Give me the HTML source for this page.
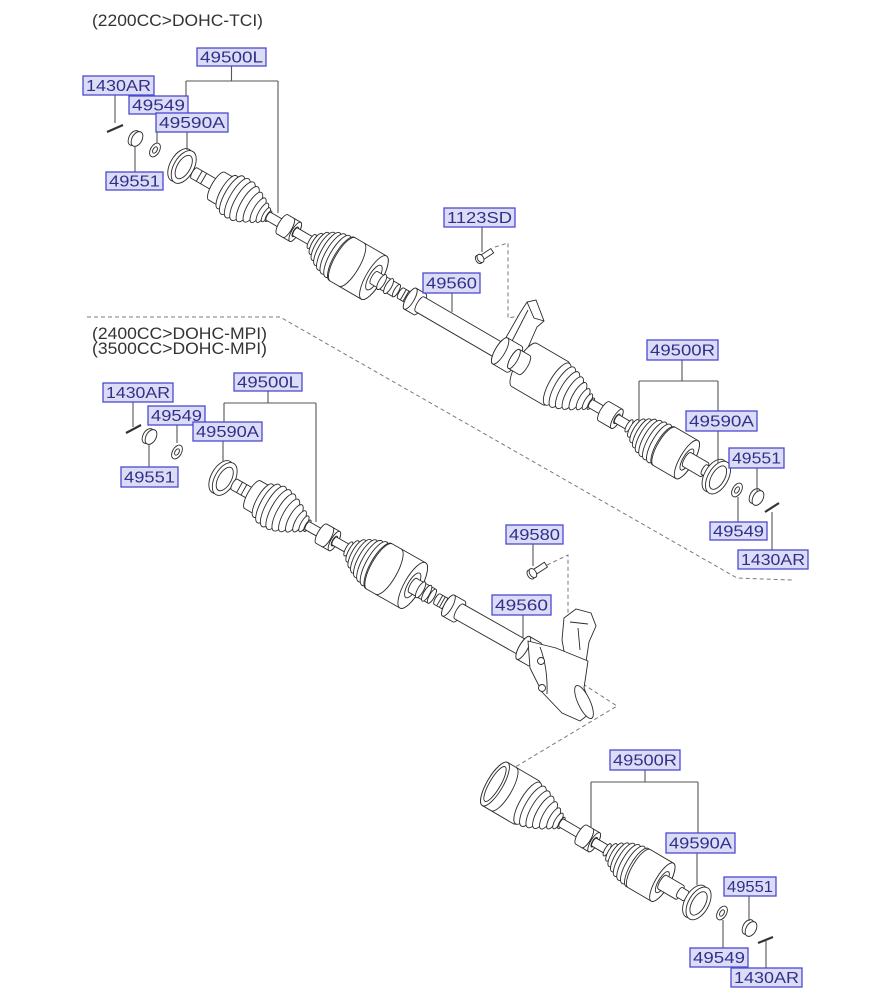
<!DOCTYPE html>
<html><head><meta charset="utf-8">
<style>
html,body{margin:0;padding:0;background:#fff;}
svg{display:block;}
.p{fill:#fff;stroke:#2a2a2a;stroke-width:0.9;}
.n{fill:none;stroke:#2a2a2a;stroke-width:0.9;}
.ld{fill:none;stroke:#555;stroke-width:1.1;}
.ds{fill:none;stroke:#7a7a7a;stroke-width:1;stroke-dasharray:4 3;}
.lb{fill:#dcdcf7;stroke:#4a4ad2;stroke-width:1.3;}
.lt{font-family:"Liberation Sans",sans-serif;font-size:15.5px;fill:#30308a;text-anchor:middle;}
.hd{font-family:"Liberation Sans",sans-serif;font-size:17px;fill:#333;}
</style></head>
<body>
<svg width="893" height="1000" viewBox="0 0 893 1000" xmlns="http://www.w3.org/2000/svg">
<rect width="893" height="1000" fill="#fff"/>

<!-- headers -->
<text class="hd" x="92" y="26" textLength="171" lengthAdjust="spacingAndGlyphs">(2200CC&gt;DOHC-TCI)</text>
<text class="hd" x="92" y="339" textLength="175" lengthAdjust="spacingAndGlyphs">(2400CC&gt;DOHC-MPI)</text>
<text class="hd" x="92" y="354" textLength="175" lengthAdjust="spacingAndGlyphs">(3500CC&gt;DOHC-MPI)</text>

<!-- dashed separators -->
<path class="ds" d="M87,317 L280,317 L737,578 L792,580"/>
<path class="ds" d="M495,247 L508,243 L508,318 L519,316"/>
<path class="ds" d="M547,565 L568,555 L568,613"/>
<path class="ds" d="M583,684 L617,706 L492,781 L497,787"/>

<!-- top bracket arm -->
<polygon class="p" points="500,348 520,313 527,302 536,300 544,321 537,327 526,352"/>
<path class="n" d="M510,345 L528,310 M527,302 L534,318 L544,321"/>

<!-- TOP ASSEMBLY -->
<g transform="translate(182,166) rotate(30.17)">
<ellipse class="p" cx="-2" cy="0" rx="10" ry="18"/>
<ellipse class="p" cx="2" cy="0" rx="10" ry="18"/>
<ellipse class="p" cx="2" cy="0" rx="6.5" ry="13"/>
<path class="p" d="M14,-6 L42,-6 A2,6 0 0 1 42,6 L14,6 A2,6 0 0 1 14,-6Z"/>
<path class="n" d="M20,-6 L20,6 M25,-6 L25,6"/>
<path class="p" d="M40,-16 L50,-16 A5,16 0 0 1 50,16 L40,16 A5,16 0 0 1 40,-16Z"/>
<ellipse class="p" cx="52" rx="6.3" ry="19"/><ellipse class="p" cx="58" rx="7.3" ry="22"/><ellipse class="p" cx="64" rx="7.4" ry="22.5"/><ellipse class="p" cx="70" rx="7.3" ry="22"/><ellipse class="p" cx="76" rx="6.6" ry="20"/><ellipse class="p" cx="82" rx="5.6" ry="17"/><ellipse class="p" cx="88" rx="4.6" ry="14"/><ellipse class="p" cx="93" rx="3.6" ry="11"/><ellipse class="p" cx="97" rx="2.6" ry="8"/><ellipse class="p" cx="100" rx="2" ry="6"/>
<path class="p" d="M100,-4.5 L118,-4.5 A1.5,4.5 0 0 1 118,4.5 L100,4.5 A1.5,4.5 0 0 1 100,-4.5Z"/>
<path class="p" d="M116,-11 L131,-11 A3.6,11 0 0 1 131,11 L116,11 A3.6,11 0 0 1 116,-11Z"/>
<ellipse class="p" cx="131" rx="3.6" ry="11"/><ellipse class="p" cx="131" rx="2" ry="5.5"/>
<path class="n" d="M123,-11 A3.6,11 0 0 1 123,11"/>
<path class="p" d="M131,-4.5 L152,-4.5 A1.5,4.5 0 0 1 152,4.5 L131,4.5 A1.5,4.5 0 0 1 131,-4.5Z"/>
<ellipse class="p" cx="150" rx="2.6" ry="8"/><ellipse class="p" cx="155" rx="4" ry="12"/><ellipse class="p" cx="160" rx="5.3" ry="16"/><ellipse class="p" cx="165" rx="6.3" ry="19"/><ellipse class="p" cx="170" rx="7.1" ry="21.5"/><ellipse class="p" cx="175" rx="7.6" ry="23"/><ellipse class="p" cx="180" rx="7.9" ry="24"/><ellipse class="p" cx="185" rx="8.2" ry="25"/>
<path class="p" d="M186,-25 L222,-25 A8,25 0 0 1 222,25 L186,25 A8,25 0 0 1 186,-25Z"/>
<path class="n" d="M196,-25 A8,25 0 0 1 196,25"/>
<ellipse class="p" cx="222" rx="8" ry="25"/><ellipse class="p" cx="222" rx="5" ry="14"/>
<path class="p" d="M222,-7 L248,-7 A2.3,7 0 0 1 248,7 L222,7 A2.3,7 0 0 1 222,-7Z"/>
<ellipse class="p" cx="231" rx="3" ry="8.5"/><ellipse class="p" cx="239" rx="3" ry="8.5"/><ellipse class="p" cx="248" rx="2.3" ry="7"/>
<path class="p" d="M253,-6 L264,-6 A2,6 0 0 1 264,6 L253,6 A2,6 0 0 1 253,-6Z"/>
<path class="n" d="M256,-6 L256,6 M259,-6 L259,6 M262,-6 L262,6"/>
<path class="p" d="M264,-12 L275,-12 A4,12 0 0 1 275,12 L264,12 A4,12 0 0 1 264,-12Z"/>
<ellipse class="p" cx="264" rx="4" ry="12"/>
<path class="p" d="M275,-8.5 L372,-8.5 A2.8,8.5 0 0 1 372,8.5 L275,8.5 A2.8,8.5 0 0 1 275,-8.5Z"/>
<path class="p" d="M368,-15 L384,-15 A5,15 0 0 1 384,15 L368,15 A5,15 0 0 1 368,-15Z"/>
<ellipse class="p" cx="368" rx="5" ry="15"/>
<path class="p" d="M396,-25 L432,-25 A8,25 0 0 1 432,25 L396,25 A8,25 0 0 1 396,-25Z"/>
<path class="p" d="M384,-11 L396,-11 A3.6,11 0 0 1 396,11 L384,11 A3.6,11 0 0 1 384,-11Z"/>
<ellipse class="p" cx="384" rx="3.6" ry="11"/>
<ellipse class="p" cx="434" rx="7.9" ry="24"/><ellipse class="p" cx="440" rx="7.6" ry="23"/><ellipse class="p" cx="446" rx="6.9" ry="21"/><ellipse class="p" cx="452" rx="6.1" ry="18.5"/><ellipse class="p" cx="458" rx="5.1" ry="15.5"/><ellipse class="p" cx="464" rx="4" ry="12"/><ellipse class="p" cx="469" rx="3" ry="9"/><ellipse class="p" cx="473" rx="2.1" ry="6.5"/>
<path class="p" d="M473,-4.5 L490,-4.5 A1.5,4.5 0 0 1 490,4.5 L473,4.5 A1.5,4.5 0 0 1 473,-4.5Z"/>
<path class="p" d="M488,-11 L503,-11 A3.6,11 0 0 1 503,11 L488,11 A3.6,11 0 0 1 488,-11Z"/>
<ellipse class="p" cx="503" rx="3.6" ry="11"/><ellipse class="p" cx="503" rx="2" ry="5.5"/>
<path class="p" d="M503,-4.5 L519,-4.5 A1.5,4.5 0 0 1 519,4.5 L503,4.5 A1.5,4.5 0 0 1 503,-4.5Z"/>
<ellipse class="p" cx="517" rx="2.3" ry="7"/><ellipse class="p" cx="522" rx="3.3" ry="10"/><ellipse class="p" cx="527" rx="4.5" ry="13.5"/><ellipse class="p" cx="532" rx="5.4" ry="16.5"/><ellipse class="p" cx="537" rx="6.3" ry="19"/><ellipse class="p" cx="542" rx="6.8" ry="20.5"/><ellipse class="p" cx="547" rx="7.1" ry="21.5"/><ellipse class="p" cx="552" rx="7.3" ry="22"/><ellipse class="p" cx="557" rx="7.3" ry="22"/>
<path class="p" d="M558,-22 L584,-22 A7,22 0 0 1 584,22 L558,22 A7,22 0 0 1 558,-22Z"/>
<ellipse class="p" cx="584" rx="7" ry="22"/><ellipse class="p" cx="584" rx="4" ry="12"/>
<path class="p" d="M584,-8 L604,-8 A2.6,8 0 0 1 604,8 L584,8 A2.6,8 0 0 1 584,-8Z"/>
<path class="p" d="M604,-5.5 L612,-5.5 A1.8,5.5 0 0 1 612,5.5 L604,5.5 A1.8,5.5 0 0 1 604,-5.5Z"/>
<ellipse class="p" cx="616" rx="10" ry="18"/><ellipse class="p" cx="620" rx="10" ry="18"/><ellipse class="p" cx="620" rx="6.5" ry="13"/>
</g>

<!-- MIDDLE ASSEMBLY -->
<g transform="translate(223,478) rotate(29.5)">
<ellipse class="p" cx="-2" cy="0" rx="10" ry="18"/>
<ellipse class="p" cx="2" cy="0" rx="10" ry="18"/>
<ellipse class="p" cx="2" cy="0" rx="6.5" ry="13"/>
<path class="p" d="M13,-6 L36,-6 A2,6 0 0 1 36,6 L13,6 A2,6 0 0 1 13,-6Z"/>
<path class="n" d="M19,-6 L19,6 M24,-6 L24,6"/>
<path class="p" d="M34,-16 L44,-16 A5,16 0 0 1 44,16 L34,16 A5,16 0 0 1 34,-16Z"/>
<ellipse class="p" cx="46" rx="6.3" ry="19"/><ellipse class="p" cx="52" rx="7.3" ry="22"/><ellipse class="p" cx="58" rx="7.6" ry="23"/><ellipse class="p" cx="64" rx="7.4" ry="22.5"/><ellipse class="p" cx="70" rx="6.9" ry="21"/><ellipse class="p" cx="76" rx="6.1" ry="18.5"/><ellipse class="p" cx="82" rx="5.1" ry="15.5"/><ellipse class="p" cx="88" rx="4" ry="12"/><ellipse class="p" cx="93" rx="3" ry="9"/><ellipse class="p" cx="97" rx="2.1" ry="6.5"/>
<path class="p" d="M97,-4.5 L114,-4.5 A1.5,4.5 0 0 1 114,4.5 L97,4.5 A1.5,4.5 0 0 1 97,-4.5Z"/>
<path class="p" d="M113,-11 L128,-11 A3.6,11 0 0 1 128,11 L113,11 A3.6,11 0 0 1 113,-11Z"/>
<ellipse class="p" cx="128" rx="3.6" ry="11"/><ellipse class="p" cx="128" rx="2" ry="5.5"/>
<path class="n" d="M120,-11 A3.6,11 0 0 1 120,11"/>
<path class="p" d="M128,-4.5 L146,-4.5 A1.5,4.5 0 0 1 146,4.5 L128,4.5 A1.5,4.5 0 0 1 128,-4.5Z"/>
<ellipse class="p" cx="144" rx="2.6" ry="8"/><ellipse class="p" cx="149" rx="4" ry="12"/><ellipse class="p" cx="154" rx="5.3" ry="16"/><ellipse class="p" cx="159" rx="6.3" ry="19"/><ellipse class="p" cx="164" rx="7.1" ry="21.5"/><ellipse class="p" cx="169" rx="7.8" ry="23.5"/><ellipse class="p" cx="174" rx="8.2" ry="25"/><ellipse class="p" cx="179" rx="8.6" ry="26"/>
<path class="p" d="M180,-26 L218,-26 A8.5,26 0 0 1 218,26 L180,26 A8.5,26 0 0 1 180,-26Z"/>
<path class="n" d="M190,-26 A8.5,26 0 0 1 190,26"/>
<ellipse class="p" cx="218" rx="8.5" ry="26"/><ellipse class="p" cx="218" rx="5" ry="14"/>
<path class="p" d="M218,-8 L240,-8 A2.6,8 0 0 1 240,8 L218,8 A2.6,8 0 0 1 218,-8Z"/>
<ellipse class="p" cx="227" rx="3" ry="9"/><ellipse class="p" cx="234" rx="3" ry="9"/><ellipse class="p" cx="240" rx="2.6" ry="8"/>
<path class="p" d="M246,-6 L258,-6 A2,6 0 0 1 258,6 L246,6 A2,6 0 0 1 246,-6Z"/>
<path class="n" d="M249,-6 L249,6 M252,-6 L252,6 M255,-6 L255,6"/>
<path class="p" d="M259,-12 L271,-12 A4,12 0 0 1 271,12 L259,12 A4,12 0 0 1 259,-12Z"/>
<ellipse class="p" cx="259" rx="4" ry="12"/>
<path class="p" d="M271,-8.5 L348,-8.5 A2.8,8.5 0 0 1 348,8.5 L271,8.5 A2.8,8.5 0 0 1 271,-8.5Z"/>
<path class="p" d="M345,-13 L358,-13 A4.3,13 0 0 1 358,13 L345,13 A4.3,13 0 0 1 345,-13Z"/>
<ellipse class="p" cx="345" rx="4.3" ry="13"/>
</g>

<!-- middle mount bracket and bell -->
<polygon class="p" points="562,640 564,618 576,609 591,613 596,626 589,642 586,662 566,662"/>
<path class="n" d="M570,622 L588,624 M578,628 L580,650"/>
<polygon class="p" points="528,641 556,648 588,661 584,688 593,711 580,721 562,713 542,692 530,668"/>
<path class="n" d="M540,647 Q548,668 547,694"/>
<ellipse class="p" cx="584" cy="702" rx="6" ry="18" transform="rotate(-25 584 702)"/>
<circle class="p" cx="541" cy="661" r="3.5"/>
<circle class="p" cx="542" cy="688" r="3.5"/>

<!-- BOTTOM ASSEMBLY -->
<g transform="translate(495,784) rotate(30.4)">
<path class="p" d="M0,-25 L36,-25 A8,25 0 0 1 36,25 L0,25 A8,25 0 0 1 0,-25Z"/>
<ellipse class="p" cx="0" rx="8" ry="25"/><ellipse class="p" cx="0" rx="5.5" ry="20"/>
<path class="n" d="M10,-25 A8,25 0 0 1 10,25"/>
<ellipse class="p" cx="38" rx="7.9" ry="24"/><ellipse class="p" cx="44" rx="7.6" ry="23"/><ellipse class="p" cx="50" rx="6.9" ry="21"/><ellipse class="p" cx="56" rx="6.1" ry="18.5"/><ellipse class="p" cx="62" rx="5.1" ry="15.5"/><ellipse class="p" cx="68" rx="4" ry="12"/><ellipse class="p" cx="73" rx="3" ry="9"/><ellipse class="p" cx="77" rx="2.1" ry="6.5"/>
<path class="p" d="M77,-4.5 L101,-4.5 A1.5,4.5 0 0 1 101,4.5 L77,4.5 A1.5,4.5 0 0 1 77,-4.5Z"/>
<path class="p" d="M100,-11 L115,-11 A3.6,11 0 0 1 115,11 L100,11 A3.6,11 0 0 1 100,-11Z"/>
<ellipse class="p" cx="115" rx="3.6" ry="11"/><ellipse class="p" cx="115" rx="2" ry="5.5"/>
<path class="n" d="M107,-11 A3.6,11 0 0 1 107,11"/>
<path class="p" d="M115,-4.5 L132,-4.5 A1.5,4.5 0 0 1 132,4.5 L115,4.5 A1.5,4.5 0 0 1 115,-4.5Z"/>
<ellipse class="p" cx="130" rx="2.3" ry="7"/><ellipse class="p" cx="135" rx="3.3" ry="10"/><ellipse class="p" cx="140" rx="4.5" ry="13.5"/><ellipse class="p" cx="145" rx="5.4" ry="16.5"/><ellipse class="p" cx="150" rx="6.3" ry="19"/><ellipse class="p" cx="155" rx="6.8" ry="20.5"/><ellipse class="p" cx="160" rx="7.1" ry="21.5"/><ellipse class="p" cx="165" rx="7.3" ry="22"/>
<path class="p" d="M167,-22 L194,-22 A7,22 0 0 1 194,22 L167,22 A7,22 0 0 1 167,-22Z"/>
<ellipse class="p" cx="194" rx="7" ry="22"/><ellipse class="p" cx="194" rx="4" ry="12"/>
<path class="p" d="M194,-8 L214,-8 A2.6,8 0 0 1 214,8 L194,8 A2.6,8 0 0 1 194,-8Z"/>
<path class="p" d="M214,-5.5 L221,-5.5 A1.8,5.5 0 0 1 221,5.5 L214,5.5 A1.8,5.5 0 0 1 214,-5.5Z"/>
<ellipse class="p" cx="232" rx="10" ry="18"/><ellipse class="p" cx="236" rx="10" ry="18"/><ellipse class="p" cx="236" rx="6.5" ry="13"/>
</g>

<!-- bolts -->
<g transform="translate(478,260) rotate(-33)">
<rect class="p" x="2" y="-2.6" width="15" height="5.2"/>
<ellipse class="p" cx="1" cy="0" rx="3" ry="4.5"/><ellipse class="p" cx="3" cy="0" rx="3" ry="4.5"/>
</g>
<g transform="translate(530,575) rotate(-33)">
<rect class="p" x="2" y="-2.8" width="17" height="5.6"/>
<ellipse class="p" cx="1" cy="0" rx="3.2" ry="5"/><ellipse class="p" cx="3.5" cy="0" rx="3.2" ry="5"/>
</g>

<!-- washers, nuts, pins -->
<g>
<ellipse class="p" cx="155" cy="150" rx="4.5" ry="7.5" transform="rotate(30 155 150)"/>
<ellipse class="p" cx="155" cy="150" rx="2" ry="3.5" transform="rotate(30 155 150)"/>
<ellipse class="p" cx="134" cy="138" rx="5" ry="8" transform="rotate(30 134 138)"/>
<ellipse class="p" cx="137" cy="139" rx="5" ry="8" transform="rotate(30 137 139)"/>
<line x1="107" y1="132" x2="123" y2="125" stroke="#333" stroke-width="2.2"/>

<ellipse class="p" cx="177" cy="452" rx="4.5" ry="7.5" transform="rotate(30 177 452)"/>
<ellipse class="p" cx="177" cy="452" rx="2" ry="3.5" transform="rotate(30 177 452)"/>
<ellipse class="p" cx="148" cy="436" rx="5" ry="8" transform="rotate(30 148 436)"/>
<ellipse class="p" cx="151" cy="437" rx="5" ry="8" transform="rotate(30 151 437)"/>
<line x1="126" y1="433" x2="141" y2="425" stroke="#333" stroke-width="2.2"/>

<ellipse class="p" cx="737" cy="490" rx="4.5" ry="7.5" transform="rotate(30 737 490)"/>
<ellipse class="p" cx="737" cy="490" rx="2" ry="3.5" transform="rotate(30 737 490)"/>
<ellipse class="p" cx="755" cy="496" rx="5" ry="8" transform="rotate(30 755 496)"/>
<ellipse class="p" cx="758" cy="498" rx="5" ry="8" transform="rotate(30 758 498)"/>
<line x1="765" y1="512" x2="779" y2="503" stroke="#333" stroke-width="2.2"/>

<ellipse class="p" cx="722" cy="913" rx="4.5" ry="7.5" transform="rotate(30 722 913)"/>
<ellipse class="p" cx="722" cy="913" rx="2" ry="3.5" transform="rotate(30 722 913)"/>
<ellipse class="p" cx="748" cy="927" rx="5" ry="8" transform="rotate(30 748 927)"/>
<ellipse class="p" cx="751" cy="929" rx="5" ry="8" transform="rotate(30 751 929)"/>
<line x1="758" y1="943" x2="773" y2="937" stroke="#333" stroke-width="2.2"/>
</g>

<!-- leader lines -->
<path class="ld" d="M231.5,66 V81 M186,81 H278 M186,81 V113 M278,81 V213 M187,132 V150 M115,95 V123 M157,114 V143 M135,172 V146"/>
<path class="ld" d="M482,227 V252 M452,293 V312"/>
<path class="ld" d="M682,360 V381 M639,381 H718 M639,381 V420 M718,381 V411 M718,431 V463 M757,468 V491 M738,522 V497 M772,550 V512"/>
<path class="ld" d="M268,391 V403 M224,403 H316 M224,403 V422 M316,403 V522 M223,441 V462 M133,402 V427 M177,425 V443 M149,467 V444"/>
<path class="ld" d="M533,544 V566 M523,615 V638"/>
<path class="ld" d="M645,770 V782 M591,782 H698 M591,782 V828 M698,782 V833 M697,853 V885 M749,896 V921 M723,948 V920 M766,968 V941"/>

<!-- labels -->
<g>
<rect class="lb" x="197" y="48" width="69" height="18"/><text class="lt" x="231.5" y="62.5" textLength="63" lengthAdjust="spacingAndGlyphs">49500L</text>
<rect class="lb" x="83" y="76" width="71" height="19"/><text class="lt" x="118.5" y="91" textLength="65" lengthAdjust="spacingAndGlyphs">1430AR</text>
<rect class="lb" x="129" y="96" width="59" height="18"/><text class="lt" x="158.5" y="110.5" textLength="53" lengthAdjust="spacingAndGlyphs">49549</text>
<rect class="lb" x="156" y="113" width="72" height="19"/><text class="lt" x="192" y="128" textLength="66" lengthAdjust="spacingAndGlyphs">49590A</text>
<rect class="lb" x="106" y="172" width="57" height="18"/><text class="lt" x="134.5" y="186.5" textLength="51" lengthAdjust="spacingAndGlyphs">49551</text>
<rect class="lb" x="444" y="208" width="71" height="19"/><text class="lt" x="479.5" y="223" textLength="65" lengthAdjust="spacingAndGlyphs">1123SD</text>
<rect class="lb" x="423" y="273" width="57" height="20"/><text class="lt" x="451.5" y="288.5" textLength="51" lengthAdjust="spacingAndGlyphs">49560</text>
<rect class="lb" x="647" y="340" width="71" height="20"/><text class="lt" x="682.5" y="355.5" textLength="65" lengthAdjust="spacingAndGlyphs">49500R</text>
<rect class="lb" x="686" y="411" width="71" height="20"/><text class="lt" x="721.5" y="426.5" textLength="65" lengthAdjust="spacingAndGlyphs">49590A</text>
<rect class="lb" x="729" y="448" width="55" height="20"/><text class="lt" x="756.5" y="463.5" textLength="49" lengthAdjust="spacingAndGlyphs">49551</text>
<rect class="lb" x="710" y="522" width="57" height="18"/><text class="lt" x="738.5" y="536.5" textLength="51" lengthAdjust="spacingAndGlyphs">49549</text>
<rect class="lb" x="738" y="550" width="70" height="19"/><text class="lt" x="773" y="565" textLength="64" lengthAdjust="spacingAndGlyphs">1430AR</text>

<rect class="lb" x="234" y="373" width="68" height="18"/><text class="lt" x="268" y="387.5" textLength="62" lengthAdjust="spacingAndGlyphs">49500L</text>
<rect class="lb" x="103" y="383" width="70" height="19"/><text class="lt" x="138" y="398" textLength="64" lengthAdjust="spacingAndGlyphs">1430AR</text>
<rect class="lb" x="148" y="406" width="57" height="19"/><text class="lt" x="176.5" y="421" textLength="51" lengthAdjust="spacingAndGlyphs">49549</text>
<rect class="lb" x="193" y="422" width="69" height="19"/><text class="lt" x="227.5" y="437" textLength="63" lengthAdjust="spacingAndGlyphs">49590A</text>
<rect class="lb" x="121" y="467" width="57" height="20"/><text class="lt" x="149.5" y="482.5" textLength="51" lengthAdjust="spacingAndGlyphs">49551</text>
<rect class="lb" x="506" y="525" width="57" height="19"/><text class="lt" x="534.5" y="540" textLength="51" lengthAdjust="spacingAndGlyphs">49580</text>
<rect class="lb" x="492" y="595" width="59" height="20"/><text class="lt" x="521.5" y="610.5" textLength="53" lengthAdjust="spacingAndGlyphs">49560</text>

<rect class="lb" x="610" y="750" width="70" height="20"/><text class="lt" x="645" y="765.5" textLength="64" lengthAdjust="spacingAndGlyphs">49500R</text>
<rect class="lb" x="666" y="833" width="69" height="20"/><text class="lt" x="700.5" y="848.5" textLength="63" lengthAdjust="spacingAndGlyphs">49590A</text>
<rect class="lb" x="724" y="877" width="52" height="19"/><text class="lt" x="750" y="892" textLength="46" lengthAdjust="spacingAndGlyphs">49551</text>
<rect class="lb" x="690" y="948" width="58" height="19"/><text class="lt" x="719" y="963" textLength="52" lengthAdjust="spacingAndGlyphs">49549</text>
<rect class="lb" x="731" y="968" width="71" height="19"/><text class="lt" x="766.5" y="983" textLength="65" lengthAdjust="spacingAndGlyphs">1430AR</text>
</g>
</svg>
</body></html>
